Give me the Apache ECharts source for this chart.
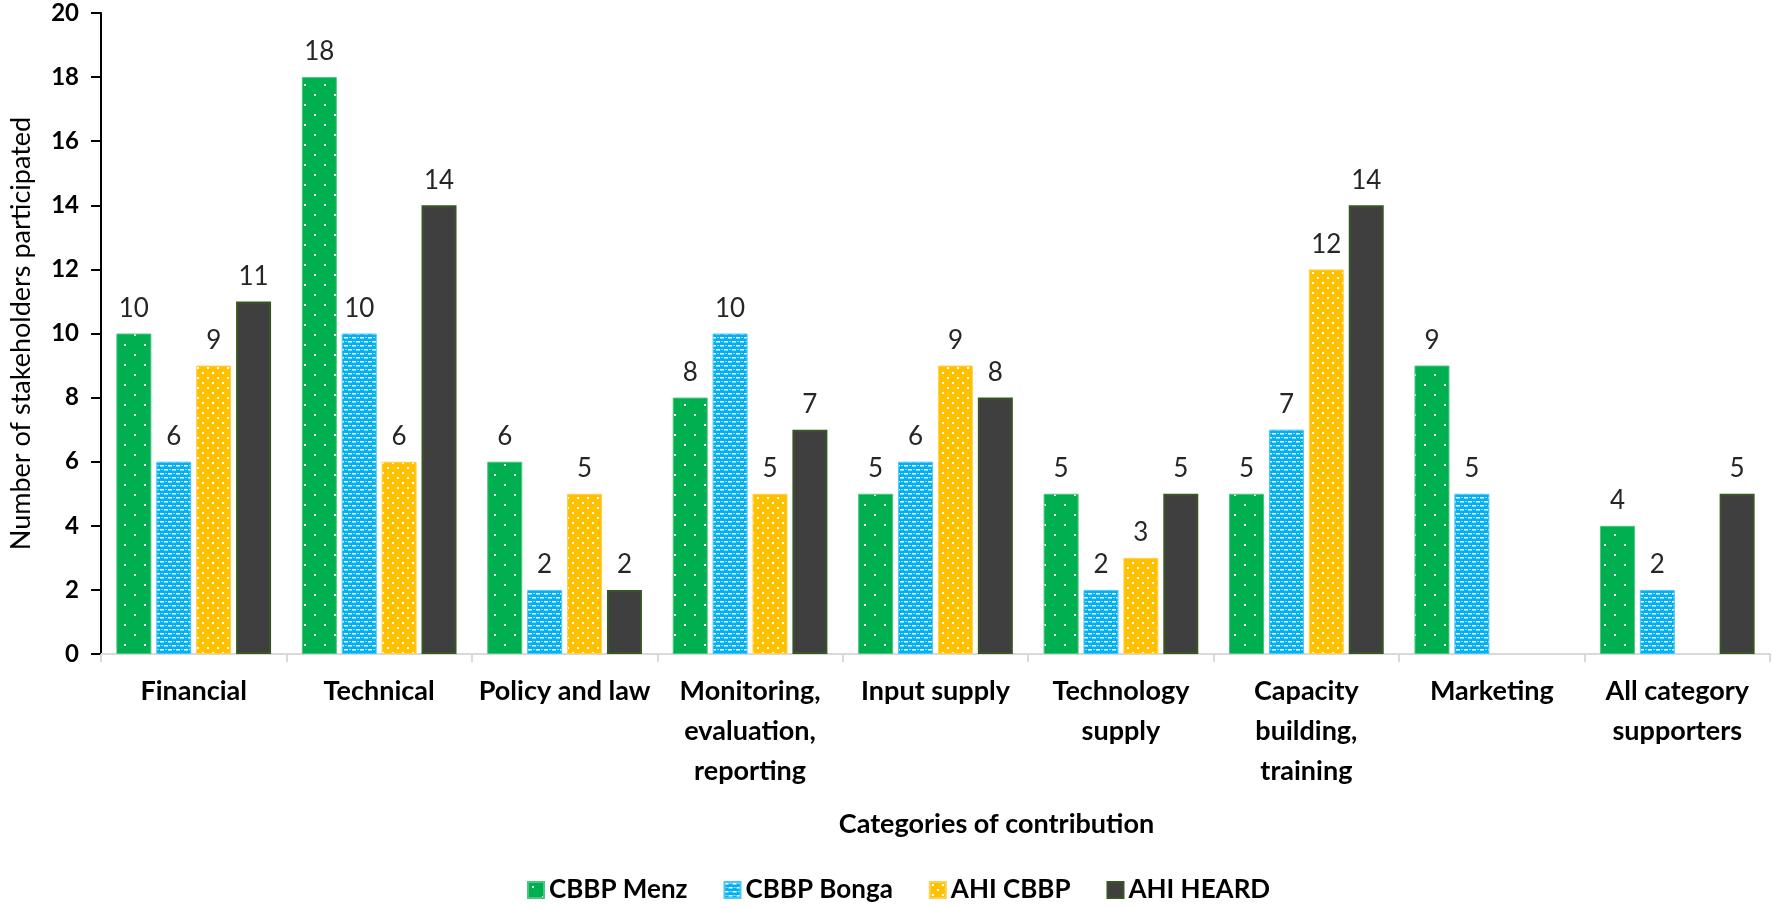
<!DOCTYPE html>
<html>
<head>
<meta charset="utf-8">
<title>Categories of contribution</title>
<script src="https://cdn.jsdelivr.net/npm/echarts@6/dist/echarts.min.js"></script>
<style>
  html, body { margin: 0; padding: 0; background: #fff; }
  #chart { width: 1772px; height: 908px; }
</style>
</head>
<body>
<div id="chart"></div>
<script>
// categories and values
const categories = [
  'Financial', 'Technical', 'Policy and law', 'Monitoring,\nevaluation,\nreporting',
  'Input supply', 'Technology\nsupply', 'Capacity\nbuilding,\ntraining', 'Marketing',
  'All category\nsupporters'
];
const cbbpMenz  = [10, 18, 6, 8, 5, 5, 5, 9, 4];
const cbbpBonga = [6, 10, 2, 10, 6, 2, 7, 5, 2];
const ahiCbbp   = [9, 6, 5, 5, 9, 3, 12, null, null];
const ahiHeard  = [11, 14, 2, 7, 8, 5, 14, null, 5];
const yTicks = { min: 0, max: 20, interval: 2 };

const FONT = 'Lato, "Open Sans", sans-serif';

// small tiles to imitate the Excel fill patterns
function tile(w, h, bg, draw) {
  const c = document.createElement('canvas');
  c.width = w; c.height = h;
  const ctx = c.getContext('2d');
  ctx.fillStyle = bg;
  ctx.fillRect(0, 0, w, h);
  ctx.fillStyle = '#ffffff';
  draw(ctx);
  return { image: c, repeat: 'repeat' };
}

const greenFill = tile(20, 20, '#00b050', ctx => {
  ctx.fillRect(4, 4, 2, 2);
  ctx.fillRect(14, 14, 2, 2);
});
const blueFill = tile(8, 8, '#00b0f0', ctx => {
  ctx.fillRect(0, 1, 4, 1.5);
  ctx.fillRect(4, 5, 4, 1.5);
  ctx.globalAlpha = 0.6;
  ctx.fillRect(5, 1, 2, 1);
  ctx.fillRect(1, 5, 2, 1);
});
const yellowFill = tile(10, 10, '#ffc000', ctx => {
  ctx.fillRect(2, 2, 2, 2);
  ctx.fillRect(7, 7, 2, 2);
});
const darkFill = tile(4, 4, '#404040', ctx => {
  ctx.fillStyle = '#383838';
  ctx.fillRect(0, 0, 1, 1);
  ctx.fillRect(2, 2, 1, 1);
});

const chart = echarts.init(document.getElementById('chart'));

const labelStyle = {
  show: true,
  position: 'top',
  distance: 12,
  color: '#262626',
  fontFamily: FONT,
  fontSize: 26
};

function bar(name, data, fill, border) {
  return {
    name: name,
    type: 'bar',
    data: data,
    barWidth: 35,
    barGap: '14%',
    itemStyle: {
      color: fill,
      borderColor: border.color,
      borderWidth: border.width
    },
    label: labelStyle
  };
}

const option = {
  animation: false,
  backgroundColor: '#ffffff',
  grid: {
    left: 96,
    right: 2,
    top: 13,
    bottom: 254
  },
  legend: {
    bottom: 0,
    left: 522,
    icon: 'rect',
    itemWidth: 16,
    itemHeight: 16,
    itemGap: 36,
    textStyle: {
      fontFamily: FONT,
      fontSize: 26,
      fontWeight: 'bold',
      color: '#000'
    },
    data: ['CBBP Menz', 'CBBP Bonga', 'AHI CBBP', 'AHI HEARD']
  },
  xAxis: {
    type: 'category',
    data: categories,
    name: 'Categories of contribution',
    nameLocation: 'middle',
    nameGap: 157,
    nameTextStyle: {
      fontFamily: FONT,
      fontSize: 27,
      fontWeight: 'bold',
      color: '#000',
      padding: [0, 0, 0, 122]
    },
    axisLine: { lineStyle: { color: '#d9d9d9', width: 2 } },
    axisTick: { show: true, length: 8, lineStyle: { color: '#d9d9d9', width: 2 } },
    axisLabel: {
      interval: 0,
      margin: 17,
      lineHeight: 40,
      fontFamily: FONT,
      fontSize: 27,
      fontWeight: 'bold',
      color: '#000'
    }
  },
  yAxis: {
    type: 'value',
    min: yTicks.min,
    max: yTicks.max,
    interval: yTicks.interval,
    name: 'Number of stakeholders participated',
    nameLocation: 'middle',
    nameRotate: 90,
    nameGap: 66,
    nameTextStyle: {
      fontFamily: FONT,
      fontSize: 27,
      color: '#000'
    },
    splitLine: { show: false },
    axisLine: { show: true, lineStyle: { color: '#000', width: 2 } },
    axisTick: { show: true, length: 10, lineStyle: { color: '#000', width: 2 } },
    axisLabel: {
      margin: 22,
      fontFamily: FONT,
      fontSize: 24,
      fontWeight: 'bold',
      color: '#000'
    }
  },
  series: [
    bar('CBBP Menz', cbbpMenz, greenFill, { color: '#4cc57f', width: 1 }),
    bar('CBBP Bonga', cbbpBonga, blueFill, { color: '#4cc6f4', width: 1 }),
    bar('AHI CBBP', ahiCbbp, yellowFill, { color: '#ffd04d', width: 1 }),
    bar('AHI HEARD', ahiHeard, darkFill, { color: '#375623', width: 2 })
  ]
};

chart.setOption(option);
</script>
</body>
</html>
